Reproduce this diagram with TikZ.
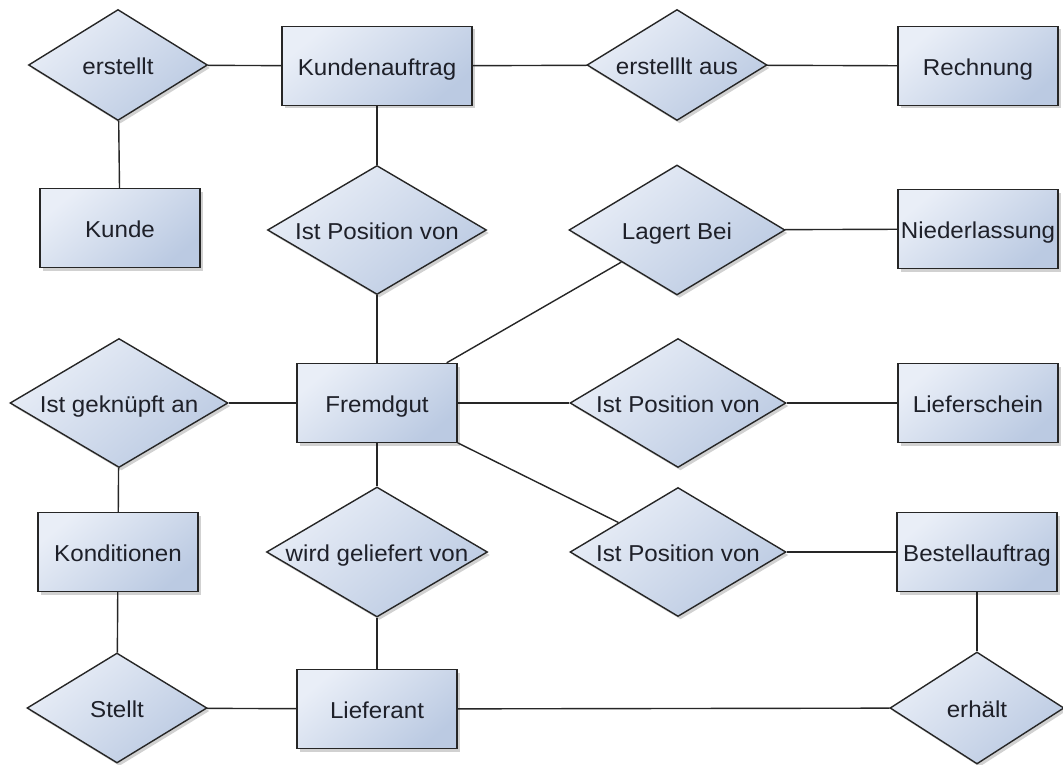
\documentclass[tikz,border=0pt]{standalone}
\usepackage{fontspec}
\setmainfont{Liberation Sans}[FakeStretch=1.05]
\usetikzlibrary{shapes.geometric,shadows}
\definecolor{lightfill}{HTML}{E9EEF7}
\definecolor{darkfill}{HTML}{BBCAE2}
\definecolor{edgecol}{HTML}{262626}
\definecolor{txtcol}{HTML}{1E2029}
\tikzset{
  base/.style={draw=edgecol, line width=1.4pt, top color=lightfill, bottom color=darkfill,
    shading angle=40, text=txtcol, inner sep=0pt, text height=19pt, text depth=0pt,
    font=\fontsize{23}{26}\selectfont,
    drop shadow={shadow xshift=2.5pt, shadow yshift=-3pt, opacity=0.18, fill=black}},
  entity/.style={base, rectangle, minimum width=#1, minimum height=79pt},
  entity/.default=160pt,
  rel/.style n args={2}{base, diamond, minimum width=#1, minimum height=#2},
  conn/.style={draw=edgecol, line width=1.4pt}
}
\newcommand{\zb}[1]{\makebox[0pt]{#1}}
\begin{document}
\begin{tikzpicture}[x=1pt,y=-1pt]
\useasboundingbox[fill=white] (0,0) rectangle (1063,765);
% entities
\node[entity=190pt] (kauf) at (377,66) {\zb{Kundenauftrag}};
\node[entity] (rech) at (978,66) {\zb{Rechnung}};
\node[entity] (kunde) at (120,228) {\zb{Kunde}};
\node[entity] (nied) at (978,229) {\zb{Niederlassung}};
\node[entity] (fremd) at (377,403) {\zb{Fremdgut}};
\node[entity] (lief) at (978,403) {\zb{Lieferschein}};
\node[entity] (kond) at (118,552) {\zb{Konditionen}};
\node[entity] (best) at (977,552) {\zb{Bestellauftrag}};
\node[entity] (liefr) at (377,709) {\zb{Lieferant}};
% relations
\node[rel={179pt}{111pt}] (erst) at (118,65) {\zb{erstellt}};
\node[rel={180pt}{111pt}] (erstaus) at (677,65) {\zb{erstelllt aus}};
\node[rel={219pt}{129pt}] (ipv1) at (377,230) {\zb{Ist Position von}};
\node[rel={216pt}{130pt}] (lager) at (677,230) {\zb{Lagert Bei}};
\node[rel={218pt}{129pt}] (gekn) at (119,403) {\zb{Ist geknüpft an}};
\node[rel={216pt}{129pt}] (ipv2) at (678,403) {\zb{Ist Position von}};
\node[rel={221pt}{130pt}] (wird) at (377,552) {\zb{wird geliefert von}};
\node[rel={216pt}{129pt}] (ipv3) at (678,552) {\zb{Ist Position von}};
\node[rel={180pt}{110pt}] (stellt) at (117,708) {\zb{Stellt}};
\node[rel={174pt}{112pt}] (erh) at (977,708) {\zb{erhält}};
% connectors
\draw[conn] (erst) -- (kauf);
\draw[conn] (erst) -- (kunde);
\draw[conn] (kauf) -- (erstaus);
\draw[conn] (erstaus) -- (rech);
\draw[conn] (kauf) -- (ipv1);
\draw[conn] (ipv1) -- (fremd);
\draw[conn] (fremd) -- (lager);
\draw[conn] (lager) -- (nied);
\draw[conn] (gekn) -- (fremd);
\draw[conn] (fremd) -- (ipv2);
\draw[conn] (ipv2) -- (lief);
\draw[conn] (fremd) -- (ipv3);
\draw[conn] (ipv3) -- (best);
\draw[conn] (fremd) -- (wird);
\draw[conn] (wird) -- (liefr);
\draw[conn] (gekn) -- (kond);
\draw[conn] (kond) -- (stellt);
\draw[conn] (stellt) -- (liefr);
\draw[conn] (liefr) -- (erh);
\draw[conn] (erh) -- (best);
\end{tikzpicture}
\end{document}
